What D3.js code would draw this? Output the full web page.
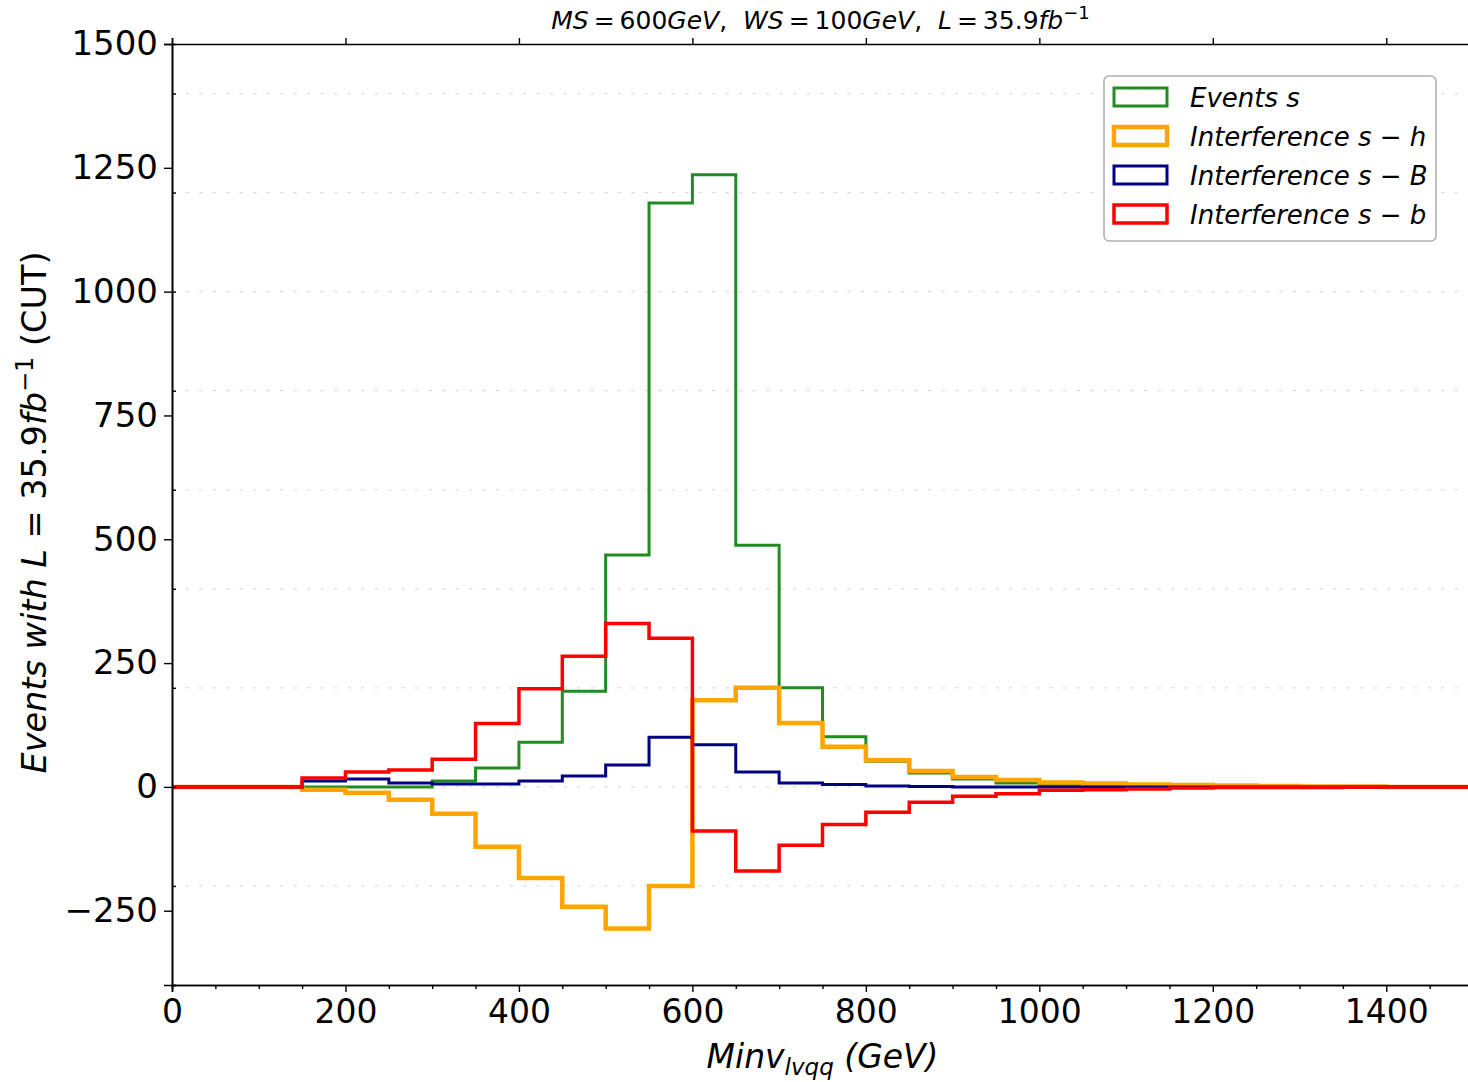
<!DOCTYPE html>
<html>
<head>
<meta charset="utf-8">
<script src="https://cdn.jsdelivr.net/npm/d3@7"></script>
<style>
  body { margin: 0; background: #fff; }
  text { font-family: "DejaVu Sans", sans-serif; fill: #000; white-space: pre; }
</style>
</head>
<body>
<div id="chart"></div>
<script>
// bin edges (GeV), 50 GeV wide
const binEdges = [0, 50, 100, 150, 200, 250, 300, 350, 400, 450, 500, 550, 600, 650, 700, 750,
  800, 850, 900, 950, 1000, 1050, 1100, 1150, 1200, 1250, 1300, 1350, 1400, 1450, 1500];

// events per bin
const eventsS = [0, 0, 0, 0, 0, 0, 12, 38, 90, 193, 468, 1179, 1236, 488, 200, 101,
  52, 28, 16, 8, 5, 3, 2, 1, 1, 0, 0, 0, 0, 0];
const interfSh = [0, 0, 0, -6, -12, -26, -54, -121, -184, -242, -286, -200, 175, 200, 129, 81,
  54, 32, 20, 14, 9, 7, 5, 4, 3, 2, 1, 1, 0, 0];
const interfSB = [0, 0, 0, 12, 16, 8, 6, 6, 12, 22, 44, 100, 85, 30, 8, 5,
  2, 1, 0, 0, 0, 0, 0, 0, 0, 0, 0, 0, 0, 0];
const interfSb = [0, 0, 0, 18, 30, 34, 56, 128, 198, 264, 330, 300, -89, -170, -118, -76,
  -51, -31, -19, -14, -7, -6, -4, -2, -1, -1, -1, 0, 0, 0];

const xTicks = [0, 200, 400, 600, 800, 1000, 1200, 1400];
const xMinor = [50, 100, 150, 250, 300, 350, 450, 500, 550, 650, 700, 750, 850, 900, 950,
  1050, 1100, 1150, 1250, 1300, 1350, 1450];
const yTicks = [-250, 0, 250, 500, 750, 1000, 1250, 1500];
const yMinor = [-400, -200, 0, 200, 400, 600, 800, 1000, 1200, 1400];

const series = [
  { name: "Events s", values: eventsS, color: "#228B22", width: 3 },
  { name: "Interference s\u2212h", values: interfSh, color: "#FFA500", width: 4.5 },
  { name: "Interference s\u2212B", values: interfSB, color: "#000080", width: 3 },
  { name: "Interference s\u2212b", values: interfSb, color: "#FF0000", width: 3.5 },
];

const W = 1468, H = 1082;
const margin = { top: 44, left: 172 };
const width = 1301, height = 941;

const svg = d3.select("#chart").append("svg")
  .attr("width", W).attr("height", H);

const g = svg.append("g").attr("transform", `translate(${margin.left},${margin.top})`);

const x = d3.scaleLinear().domain([0, 1500]).range([0, width]);
const y = d3.scaleLinear().domain([-400, 1500]).range([height, 0]);

// dotted grid on the minor y ticks
g.append("g").selectAll("line").data(yMinor.filter(d => d > -400)).join("line")
  .attr("x1", 0).attr("x2", width)
  .attr("y1", d => y(d)).attr("y2", d => y(d))
  .attr("stroke", "#dcdcdc").attr("stroke-width", 1.2)
  .attr("stroke-dasharray", "3.5,10");

// step histograms
const line = d3.line().x(d => x(d[0])).y(d => y(d[1]));
function stepPoints(values) {
  const pts = [[binEdges[0], 0]];
  values.forEach((v, i) => {
    pts.push([binEdges[i], v]);
    pts.push([binEdges[i + 1], v]);
  });
  pts.push([binEdges[binEdges.length - 1], 0]);
  return pts;
}

series.forEach(s => {
  g.append("path")
    .attr("d", line(stepPoints(s.values)))
    .attr("fill", "none")
    .attr("stroke", s.color)
    .attr("stroke-width", s.width)
    .attr("stroke-linejoin", "miter");
});

// axes
const xAxis = g.append("g").attr("transform", `translate(0,${height})`)
  .call(d3.axisBottom(x).tickValues(xTicks).tickSize(7).tickPadding(6).tickFormat(d3.format("d")));
g.append("g").attr("transform", `translate(0,${height})`)
  .call(d3.axisBottom(x).tickValues(xMinor).tickSize(4).tickFormat(""));
const topAxis = g.append("g")
  .call(d3.axisTop(x).tickValues(xTicks).tickSize(6).tickFormat(""));
const yAxis = g.append("g")
  .call(d3.axisLeft(y).tickValues(yTicks).tickSize(8).tickPadding(6)
    .tickFormat(d => d < 0 ? "\u2212" + Math.abs(d) : d));
g.append("g")
  .call(d3.axisRight(y).tickValues(yMinor).tickSize(4).tickFormat(""));

g.selectAll(".domain").attr("stroke", "#000").attr("stroke-width", 1.6);
g.selectAll(".tick line").attr("stroke", "#000").attr("stroke-width", 1.4);
g.selectAll(".tick text").attr("font-size", 33).attr("font-family", "DejaVu Sans");
yAxis.selectAll(".tick text").attr("font-size", 34);
xAxis.selectAll(".tick text").attr("dy", "0.76em");
// hide the minor axis domains (spines drawn by major axes)
g.selectAll("g").filter(function () { return d3.select(this).selectAll(".tick text").empty(); })
  .select(".domain").attr("stroke", "none");
topAxis.select(".domain").attr("stroke", "#000");

// title
const title = svg.append("text")
  .attr("x", margin.left + width / 2 - 2).attr("y", 29)
  .attr("text-anchor", "middle").attr("font-size", 25);
[["MS", 1], ["\u2009=\u2009600", 0], ["GeV", 1], [",  ", 0], ["WS", 1], ["\u2009=\u2009100", 0], ["GeV", 1],
 [",  ", 0], ["L", 1], ["\u2009=\u200935.9", 0], ["fb", 1]].forEach(([t, it]) => {
  title.append("tspan").attr("font-style", it ? "italic" : "normal").text(t);
});
title.append("tspan").attr("font-size", 18).attr("dy", -10).text("\u22121");

// x label
const xl = svg.append("text")
  .attr("x", margin.left + width / 2).attr("y", 1068)
  .attr("text-anchor", "middle").attr("font-size", 33).attr("font-style", "italic");
xl.append("tspan").text("Minv");
xl.append("tspan").attr("font-size", 23).attr("dy", 7).text("lvqq");
xl.append("tspan").attr("dy", -7).text(" (GeV)");

// y label
const yl = svg.append("text")
  .attr("transform", `translate(46,${margin.top + height * 0.5 - 2}) rotate(-90)`)
  .attr("text-anchor", "middle").attr("font-size", 33.5);
yl.append("tspan").attr("font-style", "italic").text("Events with L");
yl.append("tspan").text(" = 35.9");
yl.append("tspan").attr("font-style", "italic").text("fb");
yl.append("tspan").attr("font-size", 24).attr("dy", -13).text("\u22121");
yl.append("tspan").attr("dy", 13).text(" (CUT)");

// legend
const legend = svg.append("g").attr("transform", "translate(1104,76)");
legend.append("rect")
  .attr("width", 332).attr("height", 165).attr("rx", 5)
  .attr("fill", "#fff").attr("fill-opacity", 0.85)
  .attr("stroke", "#b0b0b0").attr("stroke-width", 1.6);
series.forEach((s, i) => {
  const row = legend.append("g").attr("transform", `translate(0,${21 + i * 39})`);
  row.append("rect")
    .attr("x", 10).attr("y", -9).attr("width", 53).attr("height", 18)
    .attr("fill", "none").attr("stroke", s.color).attr("stroke-width", s.width);
  row.append("text")
    .attr("x", 86).attr("y", 10).attr("font-size", 26).attr("font-style", "italic")
    .text(s.name.replace("\u2212", " \u2212 "));
});
</script>
</body>
</html>
